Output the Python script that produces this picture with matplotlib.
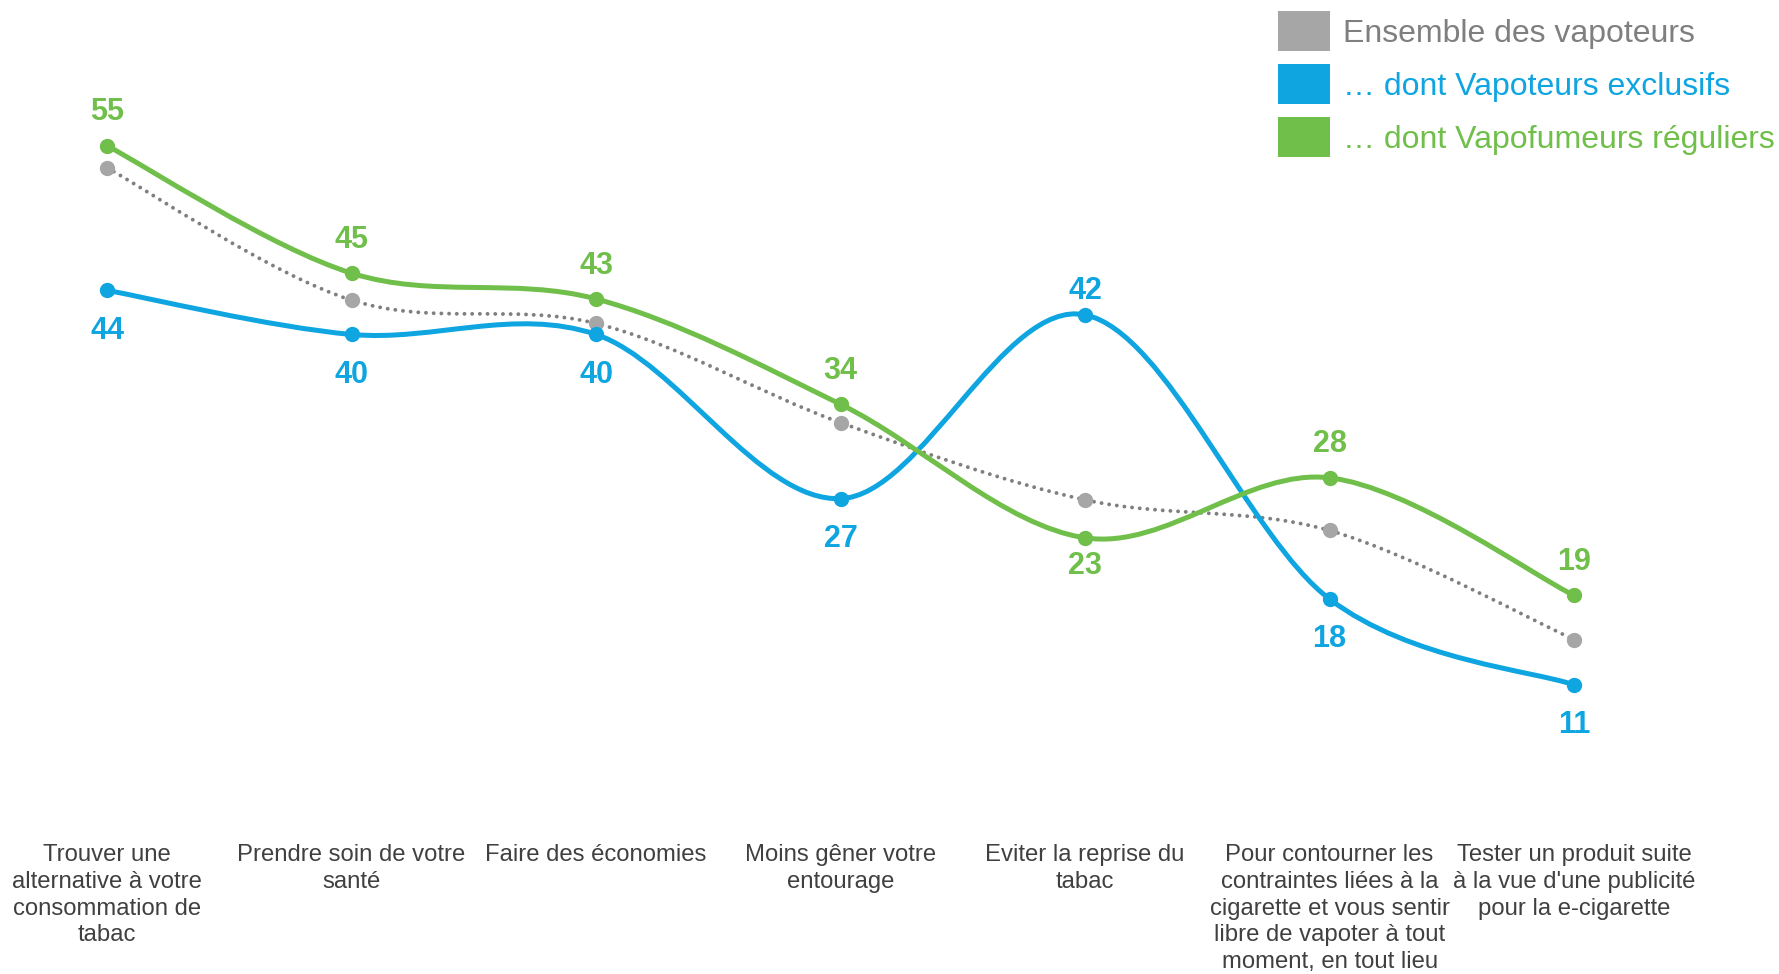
import matplotlib
matplotlib.use("Agg")
import matplotlib.pyplot as plt
import numpy as np
from matplotlib.path import Path
from matplotlib.patches import PathPatch, Patch

plt.rcParams['font.family'] = ['Liberation Sans', 'DejaVu Sans']

categories = [
    "Trouver une\nalternative à votre\nconsommation de\ntabac",
    "Prendre soin de votre\nsanté",
    "Faire des économies",
    "Moins gêner votre\nentourage",
    "Eviter la reprise du\ntabac",
    "Pour contourner les\ncontraintes liées à la\ncigarette et vous sentir\nlibre de vapoter à tout\nmoment, en tout lieu",
    "Tester un produit suite\nà la vue d'une publicité\npour la e-cigarette",
]
# values (labels show them rounded)
ensemble = [53.6, 42.8, 40.9, 32.8, 26.5, 24.0, 15.1]
exclusifs = [43.6, 40.0, 40.0, 26.6, 41.6, 18.4, 11.4]
reguliers = [55.4, 45.0, 42.9, 34.3, 23.4, 28.3, 18.7]

series_names = ["Ensemble des vapoteurs", "… dont Vapoteurs exclusifs", "… dont Vapofumeurs réguliers"]

GREY_LINE = "#7f7f7f"
GREY_MARK = "#a6a6a6"
BLUE = "#0ea5e0"
GREEN = "#70bf4a"


def smooth_path(xs, ys):
    # excel-like smoothed line (catmull-rom as cubic bezier)
    pts = np.column_stack([xs, ys]).astype(float)
    ext = np.vstack([pts[0], pts, pts[-1]])
    verts = [pts[0]]
    codes = [Path.MOVETO]
    for i in range(1, len(ext) - 2):
        p0, p1, p2, p3 = ext[i - 1], ext[i], ext[i + 1], ext[i + 2]
        c1 = p1 + (p2 - p0) / 6.0
        c2 = p2 - (p3 - p1) / 6.0
        verts += [c1, c2, p2]
        codes += [Path.CURVE4] * 3
    return Path(verts, codes)


fig = plt.figure(figsize=(17.79, 9.74), dpi=100)
ax = fig.add_axes([0, 0, 1, 1])
ax.set_xlim(-0.438, 6.838)
ax.set_ylim(-12.2, 67.3)
ax.axis("off")

x = np.arange(len(categories))

# grey dotted series
ax.add_patch(PathPatch(smooth_path(x, ensemble), fill=False, edgecolor=GREY_LINE,
                       lw=2.8, linestyle=(0, (0.01, 1.97)), capstyle="round", zorder=2))
ax.plot(x, ensemble, "o", color=GREY_MARK, ms=10, zorder=3)

ax.add_patch(PathPatch(smooth_path(x, exclusifs), fill=False, edgecolor=BLUE, lw=3.6, zorder=4))
ax.plot(x, exclusifs, "o", color=BLUE, ms=10, zorder=5)

ax.add_patch(PathPatch(smooth_path(x, reguliers), fill=False, edgecolor=GREEN, lw=3.6, zorder=6))
ax.plot(x, reguliers, "o", color=GREEN, ms=10, zorder=7)

# data labels
for i in range(len(x)):
    above_b = exclusifs[i] > reguliers[i]
    ax.annotate(f"{exclusifs[i]:.0f}", (x[i], exclusifs[i]),
                xytext=(0, 17 if above_b else -29), textcoords="offset points",
                ha="center", va="center", fontsize=22, fontweight="bold", color=BLUE, zorder=8)
    ax.annotate(f"{reguliers[i]:.0f}", (x[i], reguliers[i]),
                xytext=(0, -20 if above_b else 24), textcoords="offset points",
                ha="center", va="center", fontsize=22, fontweight="bold", color=GREEN, zorder=8)

# category labels
for i, lab in enumerate(categories):
    ax.text(x[i], -1.6, lab, ha="center", va="top", fontsize=17.2, color="#404040",
            linespacing=1.28)

handles = [Patch(facecolor=GREY_MARK), Patch(facecolor=BLUE), Patch(facecolor=GREEN)]
leg = ax.legend(handles, series_names, loc="upper left",
                bbox_to_anchor=(1278 / 1779, 1 - 11 / 974), bbox_transform=fig.transFigure,
                frameon=False, fontsize=23, borderpad=0, borderaxespad=0,
                handlelength=1.63, handleheight=1.55, handletextpad=0.4, labelspacing=0.41,
                labelcolor=[GREY_LINE, BLUE, GREEN])

fig.savefig("out.png", dpi=100)
